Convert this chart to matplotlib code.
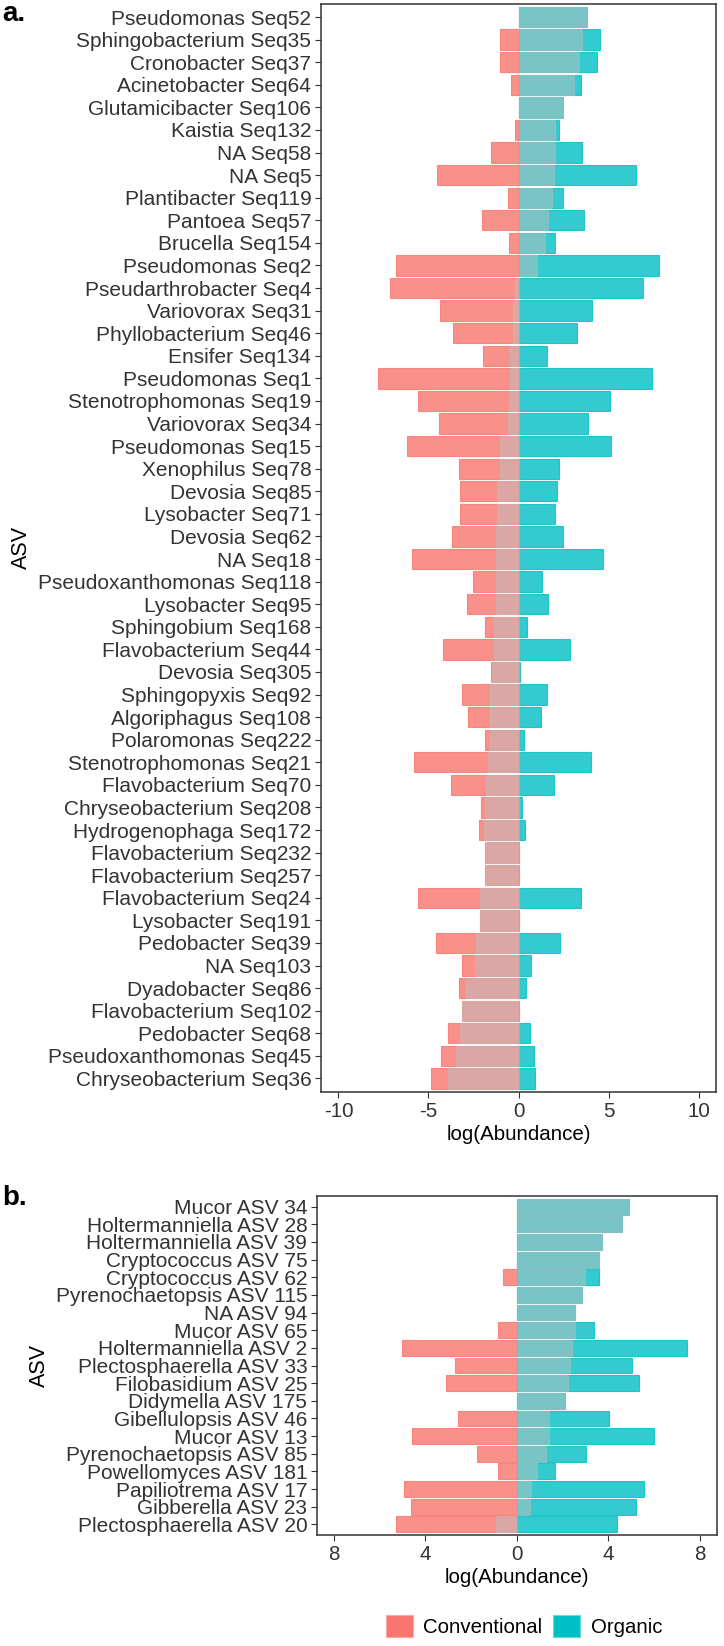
import numpy as np
import matplotlib
matplotlib.use("Agg")
import matplotlib.pyplot as plt
from matplotlib.patches import Patch

plt.rcParams['font.family'] = ['Liberation Sans', 'DejaVu Sans']

# colours (ggplot default hue pair)
conv_color = "#F8766D"
org_color = "#00BFC4"
diff_color = "#BEBEBE"
text_color = "#333333"

# panel a: bacterial ASVs (top to bottom)
asv_a = [
    "Pseudomonas Seq52", "Sphingobacterium Seq35", "Cronobacter Seq37", "Acinetobacter Seq64",
    "Glutamicibacter Seq106", "Kaistia Seq132", "NA Seq58", "NA Seq5", "Plantibacter Seq119",
    "Pantoea Seq57", "Brucella Seq154", "Pseudomonas Seq2", "Pseudarthrobacter Seq4",
    "Variovorax Seq31", "Phyllobacterium Seq46", "Ensifer Seq134", "Pseudomonas Seq1",
    "Stenotrophomonas Seq19", "Variovorax Seq34", "Pseudomonas Seq15", "Xenophilus Seq78",
    "Devosia Seq85", "Lysobacter Seq71", "Devosia Seq62", "NA Seq18", "Pseudoxanthomonas Seq118",
    "Lysobacter Seq95", "Sphingobium Seq168", "Flavobacterium Seq44", "Devosia Seq305",
    "Sphingopyxis Seq92", "Algoriphagus Seq108", "Polaromonas Seq222", "Stenotrophomonas Seq21",
    "Flavobacterium Seq70", "Chryseobacterium Seq208", "Hydrogenophaga Seq172",
    "Flavobacterium Seq232", "Flavobacterium Seq257", "Flavobacterium Seq24", "Lysobacter Seq191",
    "Pedobacter Seq39", "NA Seq103", "Dyadobacter Seq86", "Flavobacterium Seq102",
    "Pedobacter Seq68", "Pseudoxanthomonas Seq45", "Chryseobacterium Seq36",
]
conv_a = [
    0, -1.02, -1.04, -0.41, 0, -0.20, -1.52, -4.51, -0.58, -2.02, -0.54, -6.78, -7.13,
    -4.38, -3.62, -1.97, -7.82, -5.59, -4.42, -6.18, -3.29, -3.27, -3.23, -3.68, -5.92,
    -2.54, -2.88, -1.84, -4.22, -1.54, -3.16, -2.82, -1.88, -5.78, -3.77, -2.06, -2.21,
    -1.88, -1.88, -5.57, -2.15, -4.61, -3.12, -3.29, -3.12, -3.90, -4.29, -4.85,
]
org_a = [
    3.79, 4.51, 4.38, 3.49, 2.49, 2.25, 3.53, 6.54, 2.45, 3.64, 2.01, 7.78, 6.93,
    4.09, 3.25, 1.56, 7.41, 5.11, 3.84, 5.16, 2.27, 2.12, 2.04, 2.45, 4.70,
    1.28, 1.62, 0.48, 2.86, 0.11, 1.58, 1.23, 0.32, 4.05, 1.97, 0.22, 0.35,
    0, 0, 3.47, 0, 2.30, 0.71, 0.41, 0, 0.63, 0.85, 0.93,
]
diff_a = [
    3.79, 3.51, 3.34, 3.08, 2.49, 2.02, 2.01, 1.97, 1.88, 1.62, 1.49, 1.00, -0.22,
    -0.30, -0.33, -0.45, -0.45, -0.50, -0.58, -1.02, -1.02, -1.17, -1.21, -1.23, -1.23,
    -1.26, -1.26, -1.36, -1.36, -1.45, -1.60, -1.60, -1.60, -1.71, -1.82, -1.84, -1.89,
    -1.88, -1.88, -2.14, -2.15, -2.34, -2.43, -2.92, -3.12, -3.27, -3.45, -3.94,
]

# panel b: fungal ASVs (top to bottom)
asv_b = [
    "Mucor ASV 34", "Holtermanniella ASV 28", "Holtermanniella ASV 39", "Cryptococcus ASV 75",
    "Cryptococcus ASV 62", "Pyrenochaetopsis ASV 115", "NA ASV 94", "Mucor ASV 65",
    "Holtermanniella ASV 2", "Plectosphaerella ASV 33", "Filobasidium ASV 25",
    "Didymella ASV 175", "Gibellulopsis ASV 46", "Mucor ASV 13", "Pyrenochaetopsis ASV 85",
    "Powellomyces ASV 181", "Papiliotrema ASV 17", "Gibberella ASV 23", "Plectosphaerella ASV 20",
]
conv_b = [0, 0, 0, 0, -0.61, 0, 0, -0.81, -5.00, -2.72, -3.08, 0, -2.59, -4.58, -1.74,
          -0.81, -4.94, -4.62, -5.28]
org_b = [4.90, 4.60, 3.72, 3.60, 3.60, 2.85, 2.55, 3.36, 7.46, 5.05, 5.33, 2.11, 4.03,
         6.02, 3.02, 1.68, 5.58, 5.23, 4.40]
diff_b = [4.90, 4.60, 3.72, 3.60, 2.99, 2.85, 2.55, 2.53, 2.41, 2.33, 2.25, 2.11, 1.42,
          1.42, 1.30, 0.87, 0.62, 0.59, -0.89]

xticks_a = [-10, -5, 0, 5, 10]
xticks_b = [-8, -4, 0, 4, 8]
xticklabels_b = ["8", "4", "0", "4", "8"]

W, H = 724, 1646
fig = plt.figure(figsize=(W / 100, H / 100), dpi=100)

def px_axes(left, top, right, bottom):
    return fig.add_axes([left / W, 1 - bottom / H, (right - left) / W, (bottom - top) / H])

def draw_panel(ax, names, conv, org, diff, xlim):
    y = np.arange(len(names))
    ax.barh(y, conv, height=0.9, color=conv_color, alpha=0.8, edgecolor=conv_color, linewidth=0.8)
    ax.barh(y, org, height=0.9, color=org_color, alpha=0.8, edgecolor=org_color, linewidth=0.8)
    ax.barh(y, diff, height=0.9, color=diff_color, alpha=0.5, edgecolor=diff_color, linewidth=0.8)
    ax.set_yticks(y)
    ax.set_yticklabels(names, fontsize=15, color=text_color)
    ax.set_ylim(len(names) - 1 + 0.6, -0.6)
    ax.set_xlim(-xlim, xlim)
    for s in ax.spines.values():
        s.set_color("#333333")
        s.set_linewidth(1.1)
    ax.tick_params(axis="both", length=4, width=0.8, color="#333333", pad=3)
    ax.tick_params(axis="x", labelsize=14.8, labelcolor=text_color)
    ax.set_xlabel("log(Abundance)", fontsize=14.8, labelpad=3)
    ax.set_ylabel("ASV", fontsize=15.5, labelpad=4)

# panel a
ax1 = px_axes(321, 3.5, 716, 1092)
draw_panel(ax1, asv_a, conv_a, org_a, diff_a, 10.97)
ax1.set_xticks(xticks_a)
ax1.set_xticklabels([str(t) for t in xticks_a])

# panel b
ax2 = px_axes(317, 1196, 716.5, 1535)
draw_panel(ax2, asv_b, conv_b, org_b, diff_b, 8.74)
ax2.set_xticks(xticks_b)
ax2.set_xticklabels(xticklabels_b)

# panel letters
fig.text(2 / W, 1 - 21 / H, "a.", fontsize=20, fontweight="bold", ha="left", va="baseline")
fig.text(2 / W, 1 - 1205 / H, "b.", fontsize=20, fontweight="bold", ha="left", va="baseline")

# legend
handles = [Patch(facecolor=conv_color, edgecolor="#FBA9A4", linewidth=0.8, label="Conventional"),
           Patch(facecolor=org_color, edgecolor="#66DADD", linewidth=0.8, label="Organic")]
fig.legend(handles=handles, loc="center", bbox_to_anchor=(524 / W, 1 - 1626 / H), ncol=2,
           frameon=False, fontsize=14.7, handlelength=1.32, handleheight=1.27,
           handletextpad=0.5, columnspacing=0.55)

fig.savefig("out.png", dpi=100)
